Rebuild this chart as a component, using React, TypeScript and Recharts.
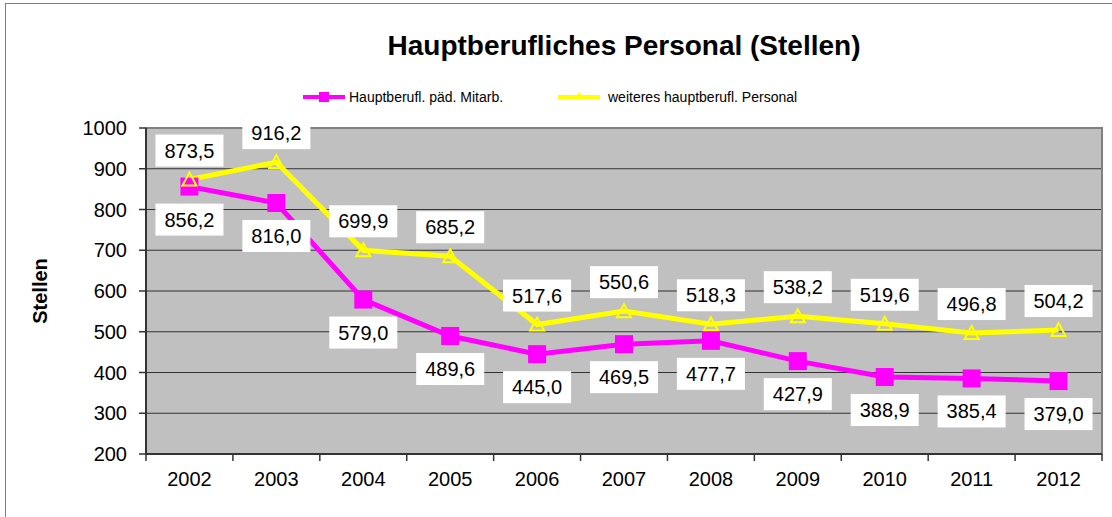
import {
    LineChart,
    Line,
    XAxis,
    YAxis,
    CartesianGrid,
    ReferenceArea,
    LabelList
} from 'recharts';

const YEARS = ['2002', '2003', '2004', '2005', '2006', '2007', '2008', '2009', '2010', '2011', '2012'];
const MITARB = [856.2, 816.0, 579.0, 489.6, 445.0, 469.5, 477.7, 427.9, 388.9, 385.4, 379.0];
const WEITERES = [873.5, 916.2, 699.9, 685.2, 517.6, 550.6, 518.3, 538.2, 519.6, 496.8, 504.2];
const Y_TICKS = [200, 300, 400, 500, 600, 700, 800, 900, 1000];
const SERIES_NAMES = ['Hauptberufl. päd. Mitarb.', 'weiteres hauptberufl. Personal'];
const TITLE = 'Hauptberufliches Personal (Stellen)';
const Y_TITLE = 'Stellen';

const data = YEARS.map((year, i) => ({ year, mitarb: MITARB[i], weiteres: WEITERES[i] }));

const FONT = 'Arial, "Liberation Sans", sans-serif';
const W = 1112;
const H = 517;
const MARGIN = { top: 128, right: 10, bottom: 23, left: 60 };
const Y_AXIS_W = 86;
const X_AXIS_H = 40;
const PLOT_LEFT = MARGIN.left + Y_AXIS_W;
const PLOT_RIGHT = W - MARGIN.right;
const PLOT_BOTTOM = H - MARGIN.bottom - X_AXIS_H;
const BAND = (PLOT_RIGHT - PLOT_LEFT) / YEARS.length;

const PINK = '#FF00FF';
const YELLOW = '#FFFF00';

const fmt = (v: number) => v.toFixed(1).replace('.', ',');

// ticks sit between categories, like the Excel original
const XTick = (props: any) => {
    const { x, payload, index } = props;
    const last = index === YEARS.length - 1;
    return (
        <g>
            <line x1={x - BAND / 2} x2={x - BAND / 2} y1={PLOT_BOTTOM} y2={PLOT_BOTTOM + 7} stroke="#333" strokeWidth={1.5} />
            {last && (
                <line x1={x + BAND / 2} x2={x + BAND / 2} y1={PLOT_BOTTOM} y2={PLOT_BOTTOM + 7} stroke="#333" strokeWidth={1.5} />
            )}
            <text x={x} y={PLOT_BOTTOM + 32} textAnchor="middle" fontSize={20} fontFamily={FONT} fill="#000">
                {payload.value}
            </text>
        </g>
    );
};

const StellenLabel = (props: any) => {
    const vb = props.viewBox || {};
    const cx = 40;
    const cy = (vb.y ?? MARGIN.top) + (vb.height ?? 0) / 2;
    return (
        <text
            x={cx}
            y={cy}
            transform={`rotate(-90 ${cx} ${cy})`}
            textAnchor="middle"
            dominantBaseline="central"
            fontSize={20}
            fontWeight="bold"
            fontFamily={FONT}
            fill="#000"
        >
            {Y_TITLE}
        </text>
    );
};

const makeBoxLabel = (dy: number) => (props: any) => {
    const { x, y, value } = props;
    if (value == null) return null;
    const cy = y + dy;
    return (
        <g>
            <rect x={x - 34} y={cy - 16} width={68} height={32} fill="#fff" />
            <text x={x} y={cy} textAnchor="middle" dominantBaseline="central" fontSize={20} fontFamily={FONT} fill="#000">
                {fmt(value)}
            </text>
        </g>
    );
};

const SquareDot = (props: any) => {
    const { cx, cy, index } = props;
    return <rect key={`sq-${index}`} x={cx - 9} y={cy - 9} width={18} height={18} fill={PINK} />;
};

const TriangleDot = (props: any) => {
    const { cx, cy, index } = props;
    return (
        <path
            key={`tr-${index}`}
            d={`M${cx},${cy - 7} L${cx + 7},${cy + 6} L${cx - 7},${cy + 6} Z`}
            fill="none"
            stroke={YELLOW}
            strokeWidth={2}
        />
    );
};

const LegendRow = () => (
    <div style={{ position: 'absolute', top: 87, left: 303, height: 20, fontFamily: FONT, fontSize: 14 }}>
        <div style={{ position: 'absolute', left: 0, top: 0, display: 'flex', alignItems: 'center', whiteSpace: 'nowrap' }}>
            <svg width={44} height={20}>
                <line x1={0} x2={42} y1={10} y2={10} stroke={PINK} strokeWidth={4} />
                <rect x={16} y={5} width={10} height={10} fill={PINK} />
            </svg>
            <span style={{ marginLeft: 2 }}>{SERIES_NAMES[0]}</span>
        </div>
        <div style={{ position: 'absolute', left: 255, top: 0, display: 'flex', alignItems: 'center', whiteSpace: 'nowrap' }}>
            <svg width={48} height={20}>
                <line x1={0} x2={42} y1={10} y2={10} stroke={YELLOW} strokeWidth={4} />
                <path d="M21,5 L25,11 L17,11 Z" fill={YELLOW} />
            </svg>
            <span style={{ marginLeft: 2 }}>{SERIES_NAMES[1]}</span>
        </div>
    </div>
);

export default function App() {
    return (
        <div style={{ position: 'absolute', left: 0, top: 0, width: W, height: H, background: '#fff', overflow: 'hidden' }}>
            <div
                style={{
                    position: 'absolute',
                    left: 5,
                    top: 3,
                    width: W + 20,
                    height: H + 20,
                    border: '1px solid #7f7f7f',
                    boxSizing: 'border-box'
                }}
            />
            <div
                style={{
                    position: 'absolute',
                    left: PLOT_LEFT,
                    width: PLOT_RIGHT - PLOT_LEFT,
                    top: 28,
                    textAlign: 'center',
                    fontFamily: FONT,
                    fontSize: 28,
                    fontWeight: 'bold',
                    lineHeight: '36px'
                }}
            >
                {TITLE}
            </div>
            <LegendRow />
            <div style={{ position: 'absolute', left: 0, top: 0 }}>
                <LineChart width={W} height={H} data={data} margin={MARGIN}>
                    <CartesianGrid vertical={false} fill="#C0C0C0" stroke="#333" strokeWidth={1} />
                    <ReferenceArea y1={200} y2={1000} fill="none" stroke="#808080" strokeWidth={2} />
                    <XAxis
                        dataKey="year"
                        scale="band"
                        height={X_AXIS_H}
                        tickLine={false}
                        axisLine={{ stroke: '#333', strokeWidth: 2 }}
                        tick={<XTick />}
                        interval={0}
                    />
                    <YAxis
                        width={Y_AXIS_W}
                        domain={[200, 1000]}
                        ticks={Y_TICKS}
                        tickSize={7}
                        tickMargin={12}
                        tickLine={{ stroke: '#333', strokeWidth: 1.5 }}
                        axisLine={{ stroke: '#333', strokeWidth: 2 }}
                        tick={{ fontSize: 20, fontFamily: FONT, fill: '#000' }}
                        label={<StellenLabel />}
                    />
                    <Line
                        dataKey="mitarb"
                        name={SERIES_NAMES[0]}
                        stroke={PINK}
                        strokeWidth={5}
                        dot={<SquareDot />}
                        isAnimationActive={false}
                    >
                        <LabelList dataKey="mitarb" content={makeBoxLabel(33)} />
                    </Line>
                    <Line
                        dataKey="weiteres"
                        name={SERIES_NAMES[1]}
                        stroke={YELLOW}
                        strokeWidth={5}
                        dot={<TriangleDot />}
                        isAnimationActive={false}
                    >
                        <LabelList dataKey="weiteres" content={makeBoxLabel(-29)} />
                    </Line>
                </LineChart>
            </div>
        </div>
    );
}
